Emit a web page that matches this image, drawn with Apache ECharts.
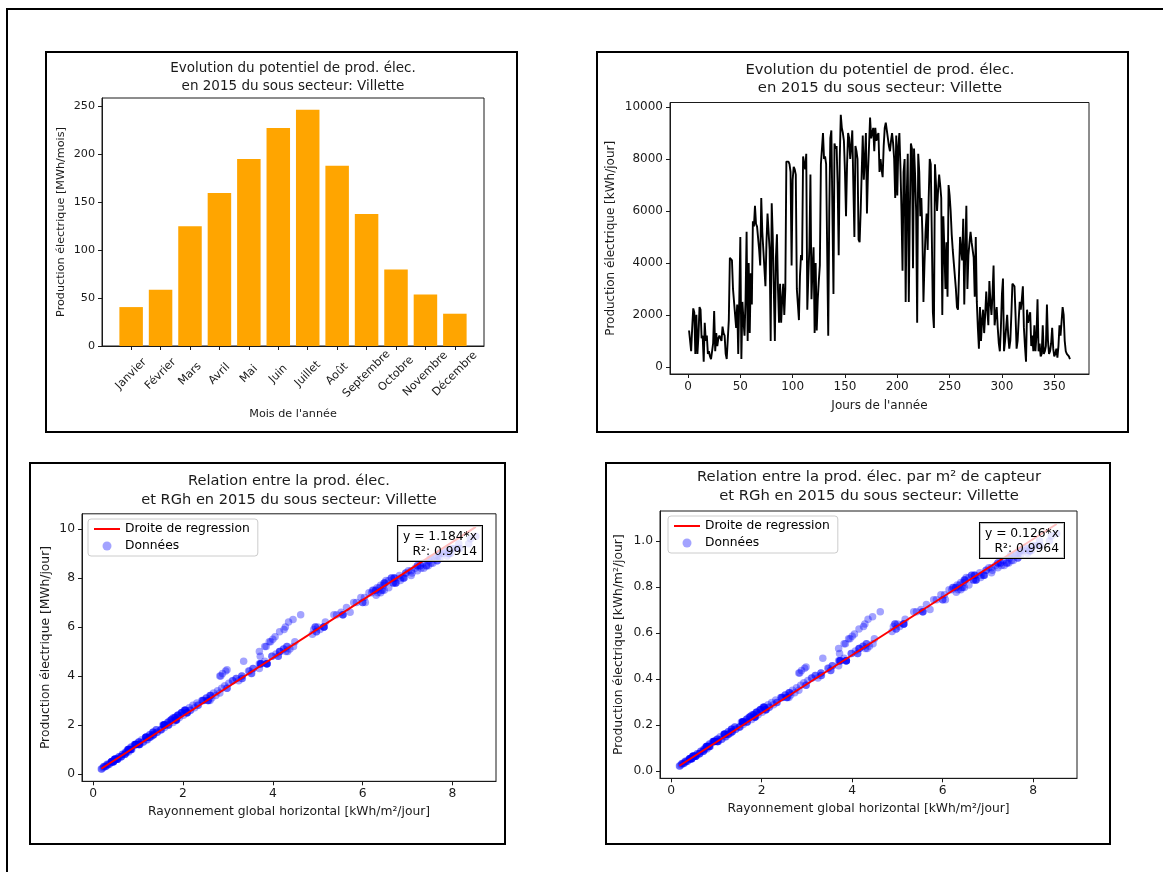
<!DOCTYPE html>
<html>
<head>
<meta charset="utf-8">
<script src="https://cdn.jsdelivr.net/npm/echarts@6/dist/echarts.min.js"></script>
<style>
html, body { margin: 0; padding: 0; background: #fff; }
#container { width: 1163px; height: 872px; }
</style>
</head>
<body>
<div id="container"></div>
<script>
// Monthly production (MWh/mois)
var months = ['Janvier', 'Février', 'Mars', 'Avril', 'Mai', 'Juin', 'Juillet', 'Août',
    'Septembre', 'Octobre', 'Novembre', 'Décembre'];
var monthlyProd = [40.5, 58.5, 124.7, 159.3, 194.6, 226.8, 245.8, 187.7, 137.5, 79.6, 53.7, 33.6];

// Daily production (kWh/jour), day 1..365
var dailyProd = [
    1400, 1400, 600, 1500, 2250, 2100, 500, 2000, 500, 1200,
    2300, 2200, 1100, 1200, 200, 1700, 1000, 1200, 500, 600,
    400, 300, 600, 900, 2150, 600, 1300, 800, 1100, 1200,
    1200, 1000, 1550, 1300, 1200, 500, 300, 250, 1800, 4200,
    4250, 4100, 3000, 2500, 2000, 1500, 2400, 500, 2600, 5000,
    300, 2500, 1800, 1200, 2600, 5200, 1000, 4000, 1300, 3600,
    2400, 5600, 5400, 6200, 5500, 5400, 5400, 4500, 3900, 6500,
    5200, 4500, 3800, 3100, 4800, 5900, 5200, 4500, 1000, 6300,
    5000, 3000, 1000, 4200, 5100, 3000, 1700, 3200, 1700, 2600,
    3200, 2000, 3000, 7900, 7900, 7900, 7800, 7500, 3900, 7200,
    7700, 7600, 7400, 3000, 2400, 1800, 3500, 4300, 4100, 8100,
    7800, 7600, 8200, 2200, 3500, 4600, 7400, 2600, 3800, 4600,
    1300, 4000, 1400, 2600, 3300, 3900, 7800, 7800, 9000, 8000,
    8100, 7800, 4500, 1200, 6000, 8800, 9100, 6000, 2800, 8600,
    8400, 8500, 7000, 4300, 8000, 9700, 9200, 9000, 8700, 7500,
    5800, 7800, 9000, 8800, 8000, 8500, 9100, 7000, 5000, 8500,
    8300, 8000, 4900, 4800, 6000, 7500, 8900, 7200, 8000, 9000,
    5900, 7500, 8500, 9600, 8800, 9000, 9200, 8300, 9200, 8700,
    8900, 9000, 7500, 8000, 7600, 7300, 8500, 9200, 9400, 9400,
    8800, 8500, 8300, 8700, 9000, 8600, 8000, 6500, 8900, 6600,
    8500, 9000, 7700, 6000, 3700, 7500, 8000, 2500, 6500, 8200,
    2500, 6000, 8600, 8400, 3800, 8400, 7400, 6000, 1700, 8200,
    7500, 5800, 6500, 5100, 2500, 4000, 5200, 5900, 4500, 6500,
    8000, 7800, 5000, 2100, 1500, 7800, 7000, 6000, 6800, 7400,
    7000, 6500, 2000, 5800, 4500, 3000, 4800, 2700, 7000, 6600,
    6000, 5100, 4500, 4000, 3500, 3000, 2300, 2200, 2200, 5000,
    4500, 4100, 5700, 2400, 4500, 6200, 3000, 4300, 4800, 5200,
    4800, 4500, 4200, 2700, 5000, 2500, 1500, 700, 2300, 1000,
    1800, 2200, 1300, 2000, 2900, 2200, 1600, 3300, 2500, 2000,
    2800, 3900, 1600, 2000, 2300, 1500, 900, 600, 1500, 2800,
    3400, 600, 1000, 1500, 2000, 1200, 700, 1000, 2000, 3200,
    3200, 3100, 2000, 700, 1000, 1800, 2500, 2200, 2600, 3100,
    1500, 800, 200, 2200, 1700, 1900, 2100, 800, 1200, 600,
    1600, 600, 1200, 2600, 600, 900, 400, 500, 1600, 500,
    600, 800, 2400, 1000, 500, 600, 900, 1500, 700, 400,
    500, 700, 350, 800, 1600, 1200, 1200, 2300, 2000, 1000,
    600, 500, 500, 400, 300
];

// Daily global horizontal irradiation (kWh/m²/jour), same days
var dailyRgh = [
    1.08, 1.21, 0.49, 1.17, 1.76, 1.78, 0.40, 1.55, 0.45, 0.93,
    1.79, 1.86, 0.84, 1.04, 0.19, 1.33, 0.86, 0.92, 0.41, 0.55,
    0.31, 0.28, 0.47, 0.72, 1.69, 0.53, 1.01, 0.71, 0.86, 1.03,
    0.94, 0.78, 1.31, 1.12, 0.95, 0.45, 0.24, 0.22, 1.41, 2.95,
    2.98, 2.88, 2.42, 1.96, 1.58, 1.27, 1.89, 0.41, 2.03, 4.16,
    0.27, 2.10, 1.52, 0.96, 2.05, 3.85, 0.79, 2.84, 1.11, 2.93,
    1.88, 4.05, 3.95, 4.35, 4.00, 4.49, 3.92, 3.74, 3.18, 4.62,
    3.82, 3.86, 3.11, 2.52, 3.72, 4.25, 4.31, 3.70, 0.84, 4.45,
    3.70, 2.44, 0.80, 3.46, 4.24, 2.55, 1.34, 2.60, 1.42, 2.06,
    2.62, 1.57, 2.46, 6.52, 6.84, 6.58, 6.74, 6.22, 3.31, 5.96,
    6.40, 6.58, 6.14, 2.60, 1.88, 1.50, 2.86, 3.56, 3.52, 6.82,
    6.68, 6.37, 6.96, 1.84, 2.98, 3.35, 6.34, 2.05, 3.10, 3.82,
    1.02, 2.82, 1.19, 2.16, 2.68, 3.19, 6.48, 6.72, 7.70, 6.64,
    7.08, 6.50, 3.72, 1.02, 4.28, 7.50, 7.84, 4.95, 2.33, 7.56,
    7.36, 7.22, 5.80, 3.70, 6.92, 8.52, 8.16, 7.72, 7.66, 6.24,
    4.15, 6.68, 7.92, 7.60, 6.72, 7.42, 7.88, 6.00, 4.15, 7.28,
    7.08, 6.85, 4.07, 4.12, 5.14, 6.42, 7.68, 6.04, 6.70, 7.92,
    5.05, 6.29, 7.42, 8.40, 7.72, 7.80, 8.12, 7.22, 7.98, 7.48,
    7.88, 7.96, 6.48, 6.64, 6.32, 6.30, 7.22, 8.04, 8.14, 8.36,
    7.52, 7.46, 7.02, 7.66, 7.74, 7.34, 6.92, 5.36, 7.64, 5.72,
    7.28, 7.92, 6.46, 5.14, 3.02, 6.44, 6.70, 2.08, 5.56, 6.96,
    1.97, 5.00, 7.52, 7.17, 3.24, 7.30, 6.20, 5.13, 1.43, 7.10,
    6.29, 4.97, 5.42, 4.38, 1.98, 3.31, 4.46, 4.91, 3.87, 5.56,
    6.90, 6.48, 4.33, 1.66, 1.18, 6.74, 6.06, 4.94, 5.64, 6.40,
    5.86, 5.56, 1.58, 4.97, 3.73, 2.56, 3.98, 2.14, 6.00, 5.52,
    5.14, 4.24, 3.87, 3.31, 2.98, 2.44, 1.82, 1.85, 1.74, 4.29,
    3.73, 3.53, 4.88, 1.90, 3.87, 5.17, 2.56, 3.56, 4.12, 4.32,
    3.98, 3.87, 3.48, 2.26, 4.15, 1.97, 1.17, 0.62, 1.82, 0.78,
    1.40, 1.84, 1.03, 1.68, 2.31, 1.73, 1.34, 2.82, 2.09, 1.58,
    2.34, 3.32, 1.26, 1.59, 1.92, 1.19, 0.74, 0.53, 1.26, 2.22,
    2.77, 0.49, 0.84, 1.25, 1.68, 0.94, 0.58, 0.79, 1.57, 2.73,
    2.61, 2.64, 1.60, 0.63, 0.77, 1.51, 2.09, 1.74, 2.17, 2.52,
    1.17, 0.71, 0.18, 1.85, 1.33, 1.59, 1.66, 0.65, 1.02, 0.48,
    1.35, 0.54, 0.95, 2.04, 0.49, 0.79, 0.36, 0.41, 1.26, 0.45,
    0.53, 0.66, 2.01, 0.84, 0.41, 0.48, 0.75, 1.18, 0.62, 0.32,
    0.45, 0.57, 0.31, 0.70, 1.34, 0.96, 1.01, 1.83, 1.67, 0.83,
    0.49, 0.44, 0.42, 0.35, 0.24
];

// Regression results and captor surface (m²)
var slopeProd = 1.184, r2Prod = 0.9914;
var slopeArea = 0.126, r2Area = 0.9964;
var captorArea = 9400;

// Tick values
var barTicksX = [0, 1, 2, 3, 4, 5, 6, 7, 8, 9, 10, 11];
var barTicksY = [0, 50, 100, 150, 200, 250];
var dayTicksX = [0, 50, 100, 150, 200, 250, 300, 350];
var dayTicksY = [0, 2000, 4000, 6000, 8000, 10000];
var rghTicksX = [0, 2, 4, 6, 8];
var prodTicksY = [0, 2, 4, 6, 8, 10];
var areaTicksY = [0, 0.2, 0.4, 0.6, 0.8, 1.0];

// Build series data
var barData = monthlyProd.map(function (v, i) { return [i, v]; });
var lineData = dailyProd.map(function (v, i) { return [i + 1, v]; });
var scatterProd = dailyRgh.map(function (x, i) { return [x, dailyProd[i] / 1000]; });
var scatterArea = dailyRgh.map(function (x, i) { return [x, dailyProd[i] / captorArea]; });
var xMin = Math.min.apply(null, dailyRgh), xMax = Math.max.apply(null, dailyRgh);
var regProd = [[xMin, slopeProd * xMin], [xMax, slopeProd * xMax]];
var regArea = [[xMin, slopeArea * xMin], [xMax, slopeArea * xMax]];

var FONT = 'DejaVu Sans';
var INK = '#1a1a1a';

function valAxis(grid, min, max, ticks, fs, fmt, extra) {
    var ax = {
        type: 'value', gridIndex: grid, min: min, max: max,
        splitLine: { show: false },
        axisLine: { show: true, onZero: false, lineStyle: { color: INK, width: 1 } },
        axisTick: { show: true, customValues: ticks, length: 4, lineStyle: { color: INK } },
        axisLabel: {
            customValues: ticks, color: INK, fontFamily: FONT, fontSize: fs, margin: 7,
            formatter: fmt || function (v) { return String(v); }
        },
        nameTextStyle: { color: INK, fontFamily: FONT, fontSize: fs },
        nameLocation: 'middle'
    };
    for (var k in extra) ax[k] = extra[k];
    return ax;
}

function titleOf(text, cx, top, fs, lh) {
    return {
        text: text, left: cx, top: top, textAlign: 'center', padding: 0,
        textStyle: { fontFamily: FONT, fontSize: fs, fontWeight: 'normal', color: INK, lineHeight: lh }
    };
}

function legendOf(left, top) {
    return {
        orient: 'vertical', left: left, top: top, itemGap: 5, itemWidth: 26, itemHeight: 9,
        padding: [4, 8, 4, 5], backgroundColor: 'rgba(255,255,255,0.8)',
        borderColor: '#cccccc', borderWidth: 1, borderRadius: 3,
        textStyle: { fontFamily: FONT, fontSize: 12.3, color: '#000' },
        data: [
            { name: 'Droite de regression', itemStyle: { opacity: 0 } },
            { name: 'Données' }
        ]
    };
}

function frame(x, y, w, h) {
    return { type: 'rect', shape: { x: x, y: y, width: w, height: h },
        style: { fill: 'none', stroke: '#000', lineWidth: 2 }, silent: true };
}

function noteBox(right, top, slope, r2) {
    return {
        type: 'text', z: 100, x: right, y: top, silent: true,
        style: {
            text: 'y = ' + slope.toFixed(3) + '*x\nR²: ' + r2.toFixed(4),
            align: 'right', verticalAlign: 'top', font: '12.3px "DejaVu Sans"', fill: '#000',
            lineHeight: 15, backgroundColor: 'rgba(255,255,255,0.75)',
            borderColor: '#000', borderWidth: 1, padding: [3, 5, 2, 5]
        }
    };
}

var myChart = echarts.init(document.getElementById('container'));
var option = {
    backgroundColor: '#fff',
    animation: false,
    title: [
        titleOf('Evolution du potentiel de prod. élec.\nen 2015 du sous secteur: Villette', 293, 59, 13.5, 18),
        titleOf('Evolution du potentiel de prod. élec.\nen 2015 du sous secteur: Villette', 880, 61, 14.8, 18),
        titleOf('Relation entre la prod. élec.\net RGh en 2015 du sous secteur: Villette', 289, 472, 14.6, 19),
        titleOf('Relation entre la prod. élec. par m² de capteur\net RGh en 2015 du sous secteur: Villette', 869, 468, 14.8, 19)
    ],
    legend: [legendOf(88, 519), legendOf(668, 516)],
    grid: [
        { left: 102, top: 98, width: 382, height: 248, show: true, borderColor: INK, borderWidth: 1 },
        { left: 670, top: 102.5, width: 419, height: 271.5, show: true, borderColor: INK, borderWidth: 1 },
        { left: 82, top: 513.8, width: 414, height: 267.5, show: true, borderColor: INK, borderWidth: 1 },
        { left: 660, top: 511, width: 417, height: 267.3, show: true, borderColor: INK, borderWidth: 1 }
    ],
    xAxis: [
        valAxis(0, -0.99, 11.99, barTicksX, 11.2, function (v) { return months[Math.round(v)]; }, {
            name: "Mois de l'année", nameGap: 63,
            axisLabel: { customValues: barTicksX, color: INK, fontFamily: FONT, fontSize: 11.2,
                rotate: 45, align: 'center', verticalAlign: 'middle', margin: 28,
                formatter: function (v) { return months[Math.round(v)]; } }
        }),
        valAxis(1, -17.2, 383.2, dayTicksX, 12, null, { name: "Jours de l'année", nameGap: 26 }),
        valAxis(2, -0.249, 8.969, rghTicksX, 12.3, null, { name: 'Rayonnement global horizontal [kWh/m²/jour]', nameGap: 25 }),
        valAxis(3, -0.249, 8.969, rghTicksX, 12.3, null, { name: 'Rayonnement global horizontal [kWh/m²/jour]', nameGap: 25 })
    ],
    yAxis: [
        valAxis(0, 0, 258.1, barTicksY, 11.2, null, { name: 'Production électrique [MWh/mois]', nameGap: 35 }),
        valAxis(1, -275, 10175, dayTicksY, 12, null, { name: 'Production électrique [kWh/jour]', nameGap: 53 }),
        valAxis(2, -0.3, 10.62, prodTicksY, 12.3, null, { name: 'Production électrique [MWh/jour]', nameGap: 30 }),
        valAxis(3, -0.032, 1.13, areaTicksY, 12.3, function (v) { return v.toFixed(1); },
            { name: 'Production électrique [kWh/m²/jour]', nameGap: 35 })
    ],
    graphic: [
        frame(7, 9, 1300, 1000),
        frame(46, 52, 471, 380),
        frame(597, 52, 531, 380),
        frame(30, 463, 475, 381),
        frame(606, 463, 504, 381),
        noteBox(482, 526, slopeProd, r2Prod),
        noteBox(1064, 523, slopeArea, r2Area)
    ],
    series: [
        {
            type: 'bar', xAxisIndex: 0, yAxisIndex: 0, data: barData, barWidth: 23.5,
            itemStyle: { color: '#ffa500' }
        },
        {
            type: 'line', xAxisIndex: 1, yAxisIndex: 1, data: lineData, symbol: 'none',
            lineStyle: { color: '#000', width: 1.9 }
        },
        {
            name: 'Données', type: 'scatter', xAxisIndex: 2, yAxisIndex: 2, data: scatterProd,
            symbolSize: 7.5, itemStyle: { color: '#0000ff', opacity: 0.36 }
        },
        {
            name: 'Droite de regression', type: 'line', xAxisIndex: 2, yAxisIndex: 2, data: regProd,
            symbol: 'none', itemStyle: { color: '#ff0000' }, lineStyle: { color: '#ff0000', width: 2 }
        },
        {
            name: 'Données', type: 'scatter', xAxisIndex: 3, yAxisIndex: 3, data: scatterArea,
            symbolSize: 7.5, itemStyle: { color: '#0000ff', opacity: 0.36 }
        },
        {
            name: 'Droite de regression', type: 'line', xAxisIndex: 3, yAxisIndex: 3, data: regArea,
            symbol: 'none', itemStyle: { color: '#ff0000' }, lineStyle: { color: '#ff0000', width: 2 }
        }
    ]
};
myChart.setOption(option);
</script>
</body>
</html>
